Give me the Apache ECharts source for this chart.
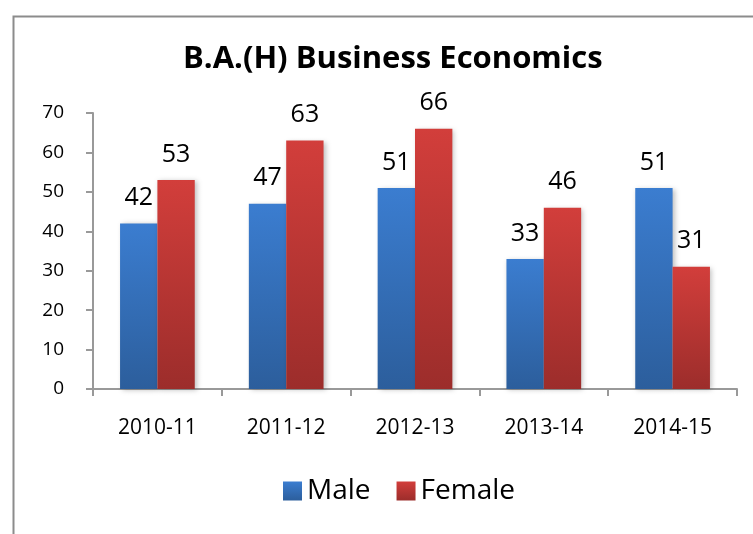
<!DOCTYPE html>
<html>
<head>
<meta charset="utf-8">
<script src="https://cdn.jsdelivr.net/npm/echarts@6/dist/echarts.min.js"></script>
<style>
html,body{margin:0;padding:0;background:#fff;}
#chart{width:753px;height:534px;}
</style>
</head>
<body>
<div id="chart"></div>
<script>
var titleText = 'B.A.(H) Business Economics';
var categories = ['2010-11', '2011-12', '2012-13', '2013-14', '2014-15'];
var maleValues = [42, 47, 51, 33, 51];
var femaleValues = [53, 63, 66, 46, 31];
var seriesNames = ['Male', 'Female'];
var yTicks = [0, 10, 20, 30, 40, 50, 60, 70];

var FONT = '"Open Sans", "Noto Sans", sans-serif';
function grad(top, bottom) {
  return new echarts.graphic.LinearGradient(0, 0, 0, 1, [
    {offset: 0, color: top}, {offset: 1, color: bottom}
  ]);
}
var chart = echarts.init(document.getElementById('chart'));
chart.setOption({
  animation: false,
  backgroundColor: '#ffffff',
  graphic: [{
    type: 'rect', left: 11, top: 14, shape: {width: 800, height: 600},
    style: {fill: 'none', stroke: '#8c8c8c', lineWidth: 2}, z: -1
  }],
  title: {
    text: titleText, left: 178, top: 39,
    textStyle: {fontFamily: FONT, fontWeight: 'bold', fontSize: 31, color: '#000'}
  },
  legend: {
    data: seriesNames, left: 278, top: 472, icon: 'rect', itemWidth: 19, itemHeight: 19,
    itemGap: 26,
    textStyle: {fontFamily: FONT, fontSize: 28, color: '#000'}
  },
  grid: {left: 93, right: 16, top: 113, bottom: 145},
  xAxis: {
    type: 'category', data: categories,
    axisLine: {lineStyle: {color: '#999', width: 2}},
    axisTick: {show: true, length: 7, lineStyle: {color: '#999', width: 2}},
    axisLabel: {fontFamily: FONT, fontSize: 21, color: '#000', margin: 29}
  },
  yAxis: {
    type: 'value', min: yTicks[0], max: yTicks[yTicks.length - 1], interval: 10,
    axisLine: {show: true, lineStyle: {color: '#999', width: 2}},
    axisTick: {show: true, length: 7, lineStyle: {color: '#999', width: 2}},
    splitLine: {show: false},
    axisLabel: {fontFamily: FONT, fontSize: 19, color: '#000', margin: 29}
  },
  series: [{
    name: seriesNames[0], type: 'bar', data: maleValues,
    barGap: '0%', barCategoryGap: '42%',
    itemStyle: {color: grad('#3b7dd0', '#2c5e9c'), shadowBlur: 5, shadowColor: 'rgba(0,0,0,0.25)', shadowOffsetX: 2, shadowOffsetY: 1},
    label: {show: true, position: 'top', distance: 13, fontFamily: FONT, fontSize: 25, color: '#000'}
  }, {
    name: seriesNames[1], type: 'bar', data: femaleValues,
    itemStyle: {color: grad('#d23e3b', '#9c2d2b'), shadowBlur: 5, shadowColor: 'rgba(0,0,0,0.25)', shadowOffsetX: 2, shadowOffsetY: 1},
    label: {show: true, position: 'top', distance: 13, fontFamily: FONT, fontSize: 25, color: '#000'}
  }]
});
</script>
</body>
</html>
